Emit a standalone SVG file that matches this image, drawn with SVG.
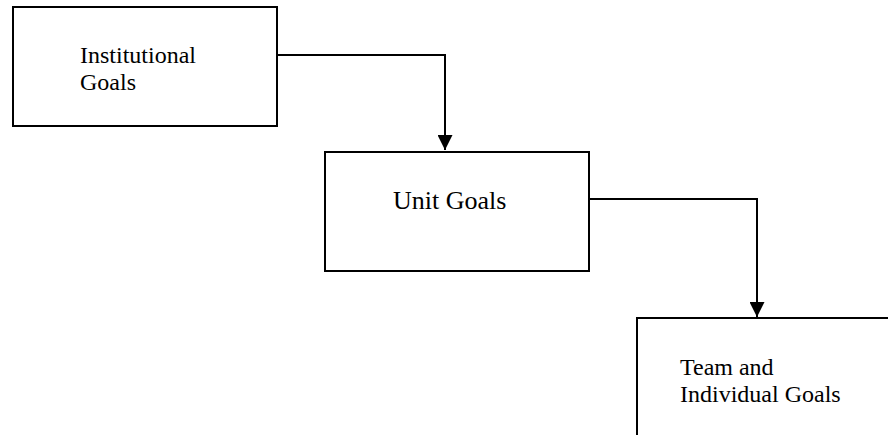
<svg xmlns="http://www.w3.org/2000/svg" width="888" height="435" viewBox="0 0 888 435">
<style>
.box{fill:#fff;stroke:#000;stroke-width:2}
.lbl{font-family:"Liberation Serif","Times New Roman",serif;fill:#000}
.conn{fill:none;stroke:#000;stroke-width:2}
</style>
<defs>
<marker id="arr" markerWidth="15" markerHeight="15" refX="15" refY="7.5" orient="auto" markerUnits="userSpaceOnUse">
<path d="M0,0 L15,7.5 L0,15 Z" fill="#000"/>
</marker>
</defs>
<rect width="888" height="435" fill="#fff"/>
<g id="connectors">
<path class="conn" d="M277,55 H445 V150" marker-end="url(#arr)"/>
<path class="conn" d="M589,199 H757 V317" marker-end="url(#arr)"/>
</g>
<g id="institutional">
<rect class="box" x="13" y="7" width="264" height="119"/>
<text class="lbl" x="80" y="63" font-size="24">Institutional</text>
<text class="lbl" x="80" y="90" font-size="24">Goals</text>
</g>
<g id="unit">
<rect class="box" x="325" y="152" width="264" height="119"/>
<text class="lbl" x="393" y="209" font-size="26">Unit Goals</text>
</g>
<g id="team">
<rect class="box" x="637" y="318" width="264" height="130"/>
<text class="lbl" x="680" y="375" font-size="24">Team and</text>
<text class="lbl" x="680" y="402" font-size="24">Individual Goals</text>
</g>
</svg>
